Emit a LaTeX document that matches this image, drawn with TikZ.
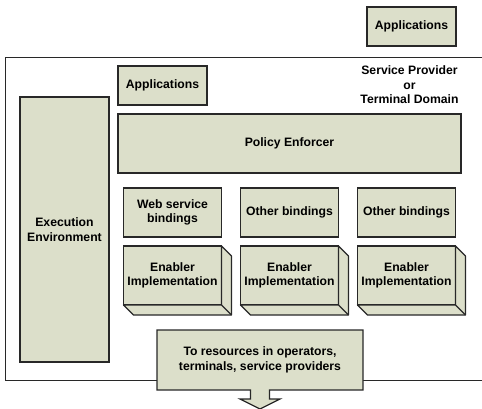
\documentclass[tikz,border=0pt]{standalone}
\usepackage{fontspec}
\setmainfont{Liberation Sans}
\usepackage{tikz}
\usetikzlibrary{calc}
\usetikzlibrary{positioning}
\usetikzlibrary{shapes.arrows}
\definecolor{boxfill}{RGB}{220,223,202}
\definecolor{boxline}{RGB}{40,40,40}

\tikzset{
  box/.style={draw=boxline, line width=1.2pt, fill=boxfill, align=center,
    inner sep=0pt, outer sep=0pt, font=\bfseries\fontsize{12.2}{14.5}\selectfont},
  depth/.style={draw=boxline, line width=1.2pt, fill=boxfill, line join=round},
  label/.style={align=center, font=\bfseries\fontsize{12.2}{14.5}\selectfont},
}

\begin{document}
\begin{tikzpicture}[x=1pt,y=-1pt]
		\useasboundingbox (0,0) rectangle (482,408);
		% domain frame, open on the right
		\draw[boxline, line width=1pt] (482,57) -- (5,57) -- (5,380) -- (482,380);
		\node[box, minimum width=89pt, minimum height=39pt] (apptop) at (411.5,26.5) {Applications};
		\node[box, minimum width=89pt, minimum height=39pt] (appin) at (162.5,85.5) {Applications};
		\node[label] (domain) at (409.5,85) {Service Provider\\or\\Terminal Domain};
		\node[box, minimum width=343pt, minimum height=59pt] (policy) at (289.5,143.5) {Policy Enforcer};
		\node[box, minimum width=89pt, minimum height=265pt] (exec) at (64.5,229.5) {Execution\\Environment};
		% bindings
		\node[box, minimum width=98pt, minimum height=49pt] (b1) at (172.5,212.5) {Web service\\bindings};
		\node[box, minimum width=98pt, minimum height=49pt] (b2) at (289.5,212.5) {Other bindings};
		\node[box, minimum width=98pt, minimum height=49pt] (b3) at (406.5,212.5) {Other bindings};
		% enabler blocks
		\foreach \i/\x in {1/172.5, 2/289.5, 3/406.5} {
			\node[box, minimum width=98pt, minimum height=59pt] (e\i) at (\x,275.5) {Enabler\\Implementation};
			\draw[depth] (e\i.north east) -- ++(10,10) -- ($(e\i.south east)+(10,10)$)
				-- ($(e\i.south west)+(10,10)$) -- (e\i.south west) -- (e\i.south east) -- cycle;
			\draw[depth] (e\i.south east) -- ++(10,10);
		}
		% resources callout
		\node[box, shape=arrow box, arrow box arrows={south:19pt from border},
			arrow box shaft width=19pt, arrow box head extend=10.5pt, arrow box tip angle=127,
			minimum width=206pt, minimum height=60pt] (res) at (260,360)
			{To resources in operators,\\terminals, service providers};
	\end{tikzpicture}
\end{document}
